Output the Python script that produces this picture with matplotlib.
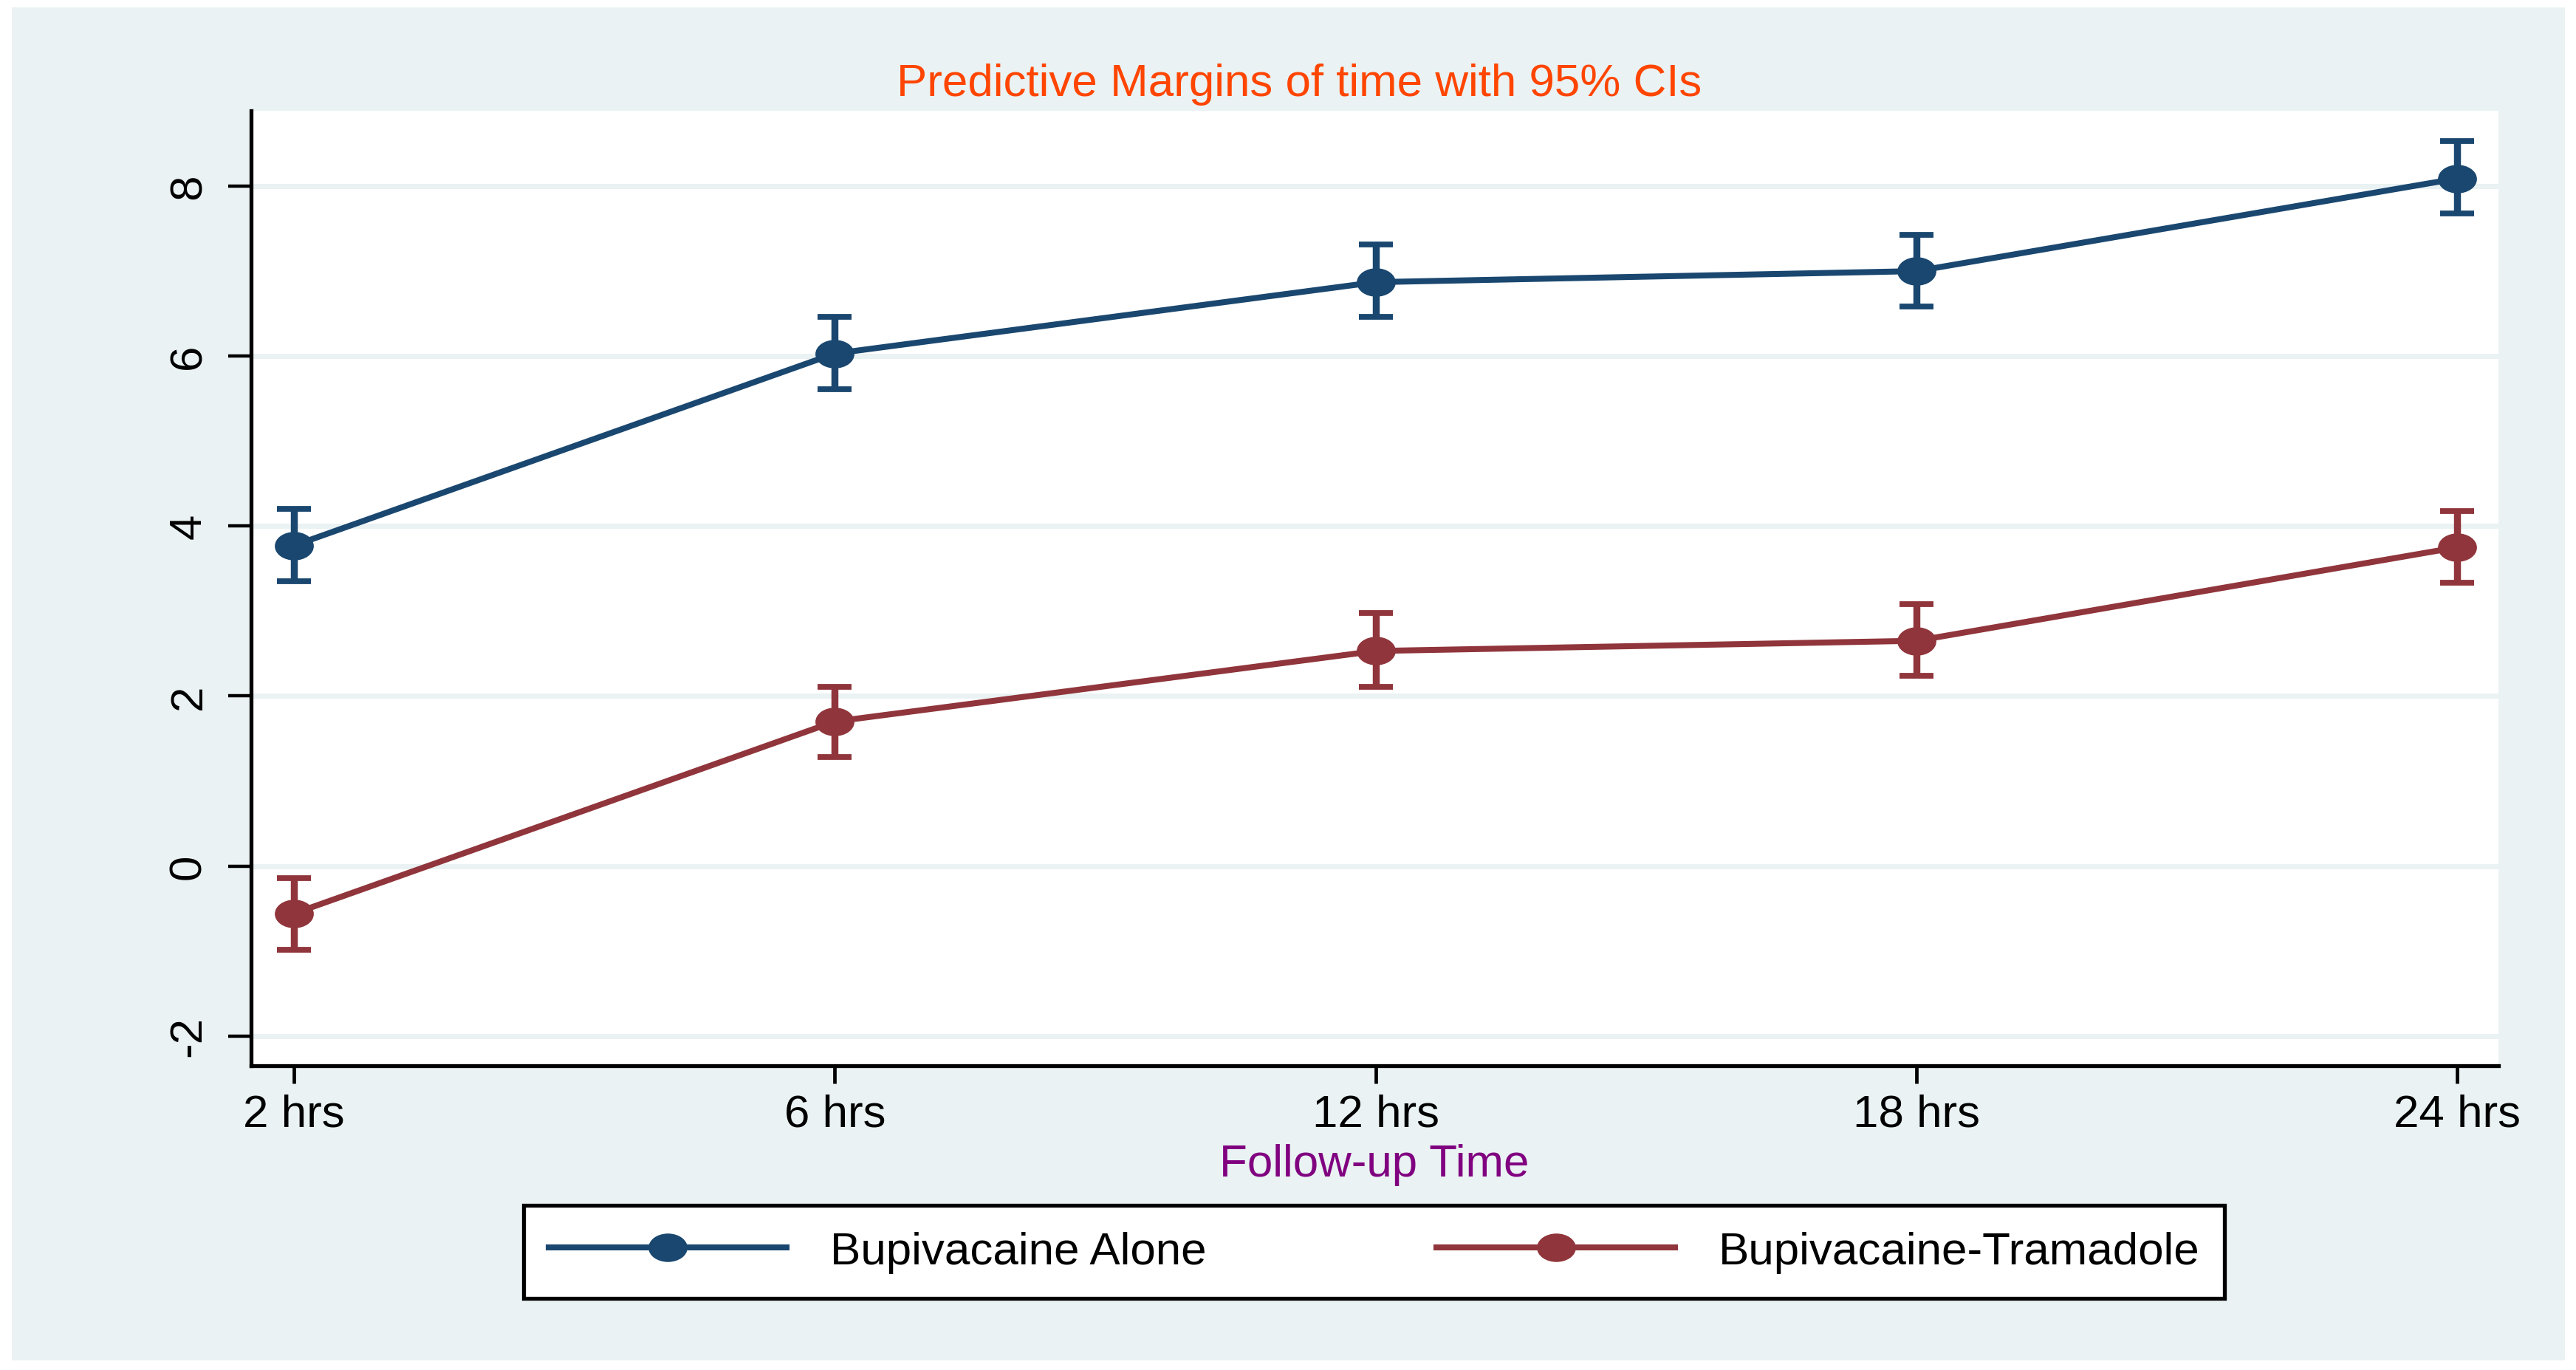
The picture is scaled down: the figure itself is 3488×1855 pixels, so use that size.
import matplotlib.pyplot as plt
from matplotlib.path import Path
from matplotlib.transforms import Affine2D
from matplotlib.patches import Rectangle

plt.rcParams['font.family'] = ['Liberation Sans', 'DejaVu Sans']

# data
times = ["2 hrs", "6 hrs", "12 hrs", "18 hrs", "24 hrs"]
alone_mean = [3.77, 6.03, 6.87, 7.00, 8.09]
alone_lo = [3.35, 5.61, 6.46, 6.58, 7.68]
alone_hi = [4.20, 6.46, 7.31, 7.43, 8.53]
trama_mean = [-0.56, 1.70, 2.53, 2.65, 3.75]
trama_lo = [-0.99, 1.28, 2.11, 2.24, 3.33]
trama_hi = [-0.14, 2.11, 2.98, 3.08, 4.18]
yticks = [-2, 0, 2, 4, 6, 8]

BLUE = "#1a476f"
RED = "#90353b"
BG = "#eaf2f3"
FS = 22.3

# stretched ellipse marker like the original
ellipse = Path.unit_circle().transformed(Affine2D().scale(1.4, 1.0))

fig = plt.figure(figsize=(17.44, 9.28), dpi=200, facecolor="white")
fig.patches.append(Rectangle((0.0046, 0.0070), 0.9911, 0.9871,
                             transform=fig.transFigure, facecolor=BG,
                             edgecolor="none", zorder=-10))

ax = fig.add_axes([0.0975, 0.222, 0.9699 - 0.0975, 0.9186 - 0.222])
ax.set_facecolor("white")
x = list(range(len(times)))

series = [
    ("Bupivacaine Alone", alone_mean, alone_lo, alone_hi, BLUE),
    ("Bupivacaine-Tramadole", trama_mean, trama_lo, trama_hi, RED),
]
for name, m, lo, hi, col in series:
    err = [[a - b for a, b in zip(m, lo)], [c - a for a, c in zip(m, hi)]]
    ax.errorbar(x, m, yerr=err, fmt="none", ecolor=col, elinewidth=3.4,
                capsize=8.2, capthick=2.8, zorder=3)
    ax.plot(x, m, color=col, lw=2.9, marker=ellipse, markersize=18,
            markerfacecolor=col, markeredgecolor=col, label=name, zorder=4)

ax.set_xlim(-0.079, 4.076)
ax.set_ylim(-2.35, 8.886)
ax.set_xticks(x)
ax.set_xticklabels(times, fontsize=FS)
ax.set_yticks(yticks)
ax.set_yticklabels([str(v) for v in yticks], fontsize=FS, rotation=90,
                   va="center")
ax.tick_params(axis="x", length=8.6, width=1.7, pad=5, color="black")
ax.tick_params(axis="y", length=11, width=1.6, pad=9, color="black")

ax.grid(axis="y", color=BG, lw=2.5)
ax.set_axisbelow(True)
for s in ["top", "right"]:
    ax.spines[s].set_visible(False)
for s in ["left", "bottom"]:
    ax.spines[s].set_linewidth(1.9)
    ax.spines[s].set_color("black")

fig.text(0.5043, 0.930, "Predictive Margins of time with 95% CIs",
         color="#ff4500", fontsize=FS, ha="center", va="baseline")
fig.text(0.5335, 0.1417, "Follow-up Time", color="#800080", fontsize=FS,
         ha="center", va="baseline")

leg = fig.legend(loc="center", ncol=2, mode="expand",
                 bbox_to_anchor=(0.2033, 0.0544, 0.6603, 0.0636),
                 borderaxespad=0, fontsize=FS, handlelength=5.2,
                 handletextpad=0.95, borderpad=0.55, columnspacing=2.4,
                 frameon=True, fancybox=False, framealpha=1,
                 edgecolor="black")
leg.get_frame().set_linewidth(1.9)

fig.savefig("out.png", dpi=200, facecolor="white")
